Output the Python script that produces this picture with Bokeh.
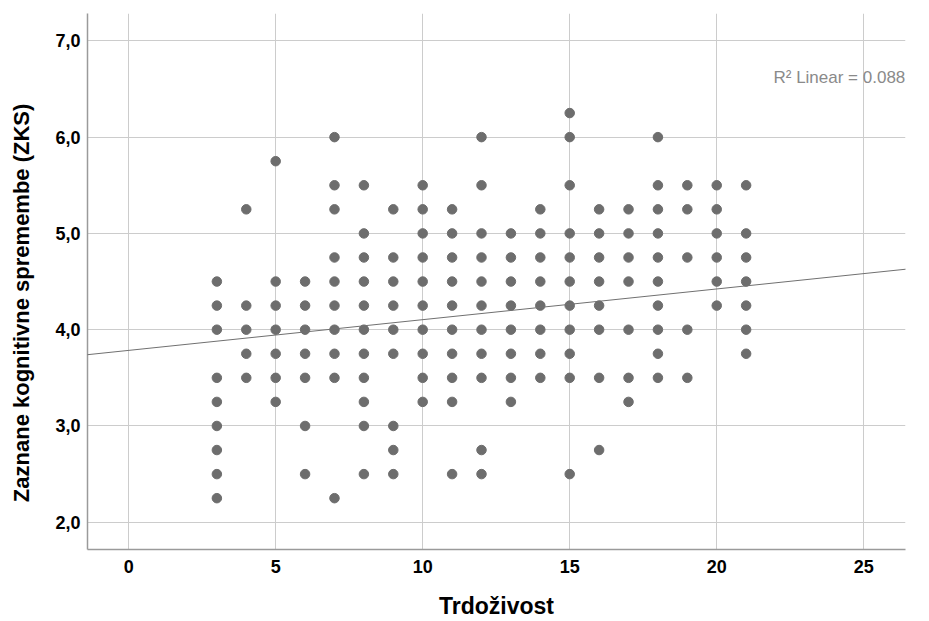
from bokeh.plotting import figure
from bokeh.models import Range1d, FixedTicker, Slope, Label, ColumnDataSource
from bokeh.embed import file_html
from bokeh.resources import INLINE

# Data: ZKS values observed at each Trdoživost score
y_at_3 = [4.5, 4.25, 4.0, 3.5, 3.25, 3.0, 2.75, 2.5, 2.25]
y_at_4 = [5.25, 4.25, 4.0, 3.75, 3.5]
y_at_5 = [5.75, 4.5, 4.25, 4.0, 3.75, 3.5, 3.25]
y_at_6 = [4.5, 4.25, 4.0, 3.75, 3.5, 3.0, 2.5]
y_at_7 = [6.0, 5.5, 5.25, 4.75, 4.5, 4.25, 4.0, 3.75, 3.5, 2.25]
y_at_8 = [5.5, 5.0, 4.75, 4.5, 4.25, 4.0, 3.75, 3.5, 3.25, 3.0, 2.5]
y_at_9 = [5.25, 4.75, 4.5, 4.25, 4.0, 3.75, 3.0, 2.75, 2.5]
y_at_10 = [5.5, 5.25, 5.0, 4.75, 4.5, 4.25, 4.0, 3.75, 3.5, 3.25]
y_at_11 = [5.25, 5.0, 4.75, 4.5, 4.25, 4.0, 3.75, 3.5, 3.25, 2.5]
y_at_12 = [6.0, 5.5, 5.0, 4.75, 4.5, 4.25, 4.0, 3.75, 3.5, 2.75, 2.5]
y_at_13 = [5.0, 4.75, 4.5, 4.25, 4.0, 3.75, 3.5, 3.25]
y_at_14 = [5.25, 5.0, 4.75, 4.5, 4.25, 4.0, 3.75, 3.5]
y_at_15 = [6.25, 6.0, 5.5, 5.0, 4.75, 4.5, 4.25, 4.0, 3.75, 3.5, 2.5]
y_at_16 = [5.25, 5.0, 4.75, 4.5, 4.25, 4.0, 3.5, 2.75]
y_at_17 = [5.25, 5.0, 4.75, 4.5, 4.0, 3.5, 3.25]
y_at_18 = [6.0, 5.5, 5.25, 5.0, 4.75, 4.5, 4.25, 4.0, 3.75, 3.5]
y_at_19 = [5.5, 5.25, 4.75, 4.0, 3.5]
y_at_20 = [5.5, 5.25, 5.0, 4.75, 4.5, 4.25]
y_at_21 = [5.5, 5.0, 4.75, 4.5, 4.25, 4.0, 3.75]

x_scores = list(range(3, 22))
columns = [y_at_3, y_at_4, y_at_5, y_at_6, y_at_7, y_at_8, y_at_9, y_at_10,
           y_at_11, y_at_12, y_at_13, y_at_14, y_at_15, y_at_16, y_at_17,
           y_at_18, y_at_19, y_at_20, y_at_21]

fit_intercept = 3.785
fit_slope = 0.0319
r2_text = "R\u00b2 Linear = 0.088"

x_ticks = [0, 5, 10, 15, 20, 25]
y_ticks = [2, 3, 4, 5, 6, 7]
y_tick_labels = ["2,0", "3,0", "4,0", "5,0", "6,0", "7,0"]

xs, ys = [], []
for xv, col in zip(x_scores, columns):
    for yv in col:
        xs.append(xv)
        ys.append(yv)
src = ColumnDataSource(dict(x=xs, y=ys))

FONT = "Liberation Sans"

p = figure(width=929, height=621, output_backend="svg", toolbar_location=None,
           x_range=Range1d(-1.40, 26.42), y_range=Range1d(1.717, 7.284),
           min_border_left=87, min_border_right=24, min_border_top=13,
           min_border_bottom=71)
p.outline_line_color = None
p.background_fill_color = "white"
p.border_fill_color = "white"

p.xgrid.ticker = FixedTicker(ticks=x_ticks)
p.ygrid.ticker = FixedTicker(ticks=y_ticks)
for g in (p.xgrid, p.ygrid):
    g.grid_line_color = "#cccccc"
    g.grid_line_width = 1

p.xaxis.ticker = FixedTicker(ticks=x_ticks)
p.yaxis.ticker = FixedTicker(ticks=y_ticks)
p.yaxis.major_label_overrides = {t: l for t, l in zip(y_ticks, y_tick_labels)}

for ax in (p.xaxis, p.yaxis):
    ax.axis_line_color = "#9a9a9a"
    ax.axis_line_width = 1.5
    ax.major_tick_out = 0
    ax.major_tick_in = 0
    ax.minor_tick_out = 0
    ax.minor_tick_in = 0
    ax.major_label_text_font = FONT
    ax.major_label_text_font_style = "bold"
    ax.major_label_text_font_size = "18px"
    ax.major_label_text_color = "#000000"
    ax.axis_label_text_font = FONT
    ax.axis_label_text_font_style = "bold"
    ax.axis_label_text_color = "#000000"

p.xaxis.major_label_standoff = 10
p.yaxis.major_label_standoff = 7

p.xaxis.axis_label = "Trdoživost"
p.xaxis.axis_label_text_font_size = "23px"
p.xaxis.axis_label_standoff = 17

# trailing no-break spaces nudge the vertical title downwards, as in the reference
p.yaxis.axis_label = "Zaznane kognitivne spremembe (ZKS)" + "\u00a0" * 7
p.yaxis.axis_label_text_font_size = "22px"
p.yaxis.axis_label_standoff = 18

p.scatter("x", "y", source=src, size=9.5, fill_color="#6d6d6d",
          line_color="#6d6d6d")

p.add_layout(Slope(gradient=fit_slope, y_intercept=fit_intercept,
                   line_color="#707070", line_width=1))

p.add_layout(Label(x=21.93, y=6.62, text=r2_text, text_font=FONT,
                   text_font_size="17px", text_color="#8a8a8a",
                   text_baseline="alphabetic", text_align="left"))

open("out.html", "w").write(file_html(p, INLINE))
